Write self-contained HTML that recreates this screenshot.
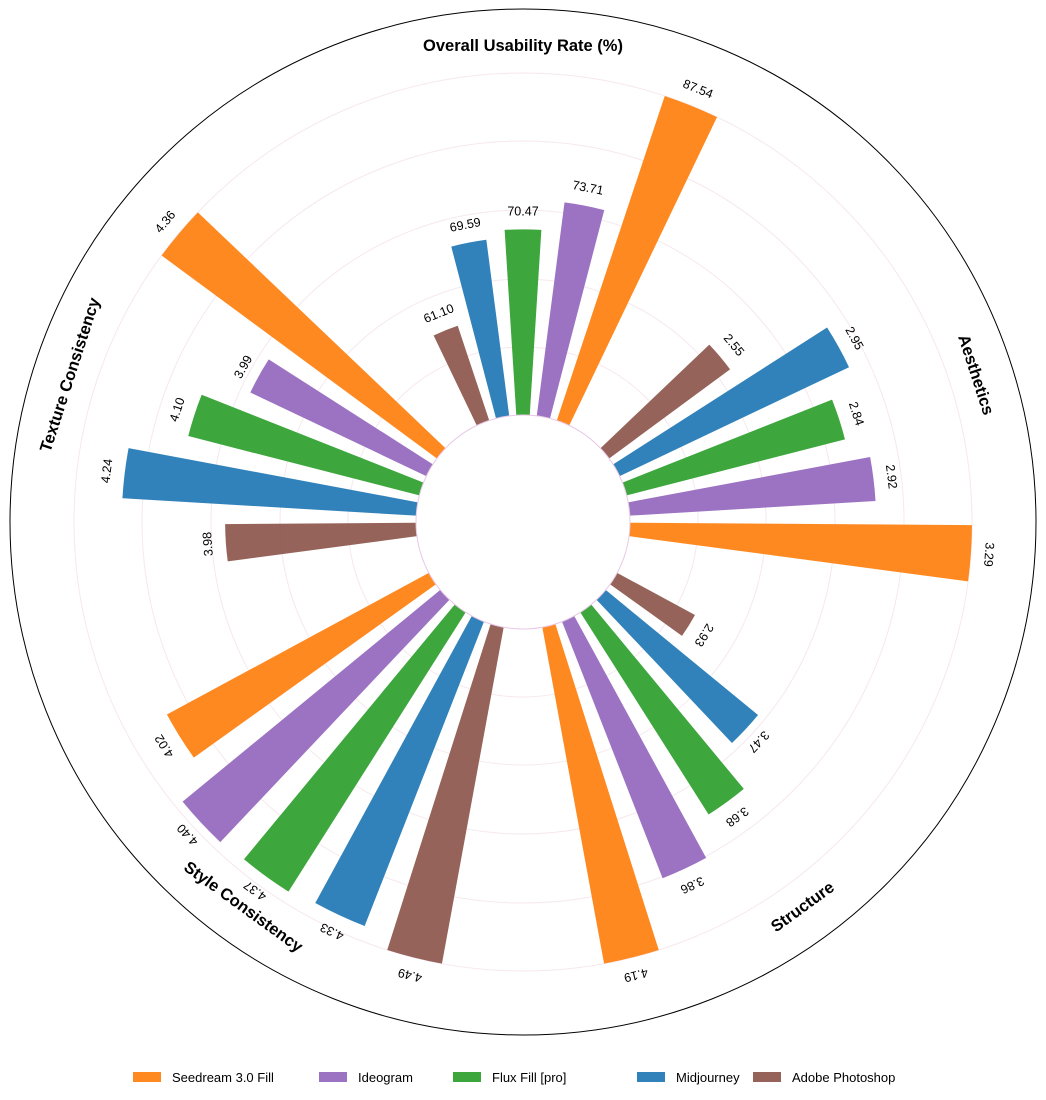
<!DOCTYPE html>
<html><head><meta charset="utf-8"><style>
body{margin:0;background:#fff;}
svg{display:block;font-family:"Liberation Sans","DejaVu Sans",sans-serif;}
</style></head><body>
<svg id="chart" width="1046" height="1100" viewBox="0 0 1046 1100"></svg>
<script>
const groups = ["Aesthetics","Overall Usability Rate (%)","Texture Consistency","Style Consistency","Structure"];
const seriesNames = ["Seedream 3.0 Fill","Ideogram","Flux Fill [pro]","Midjourney","Adobe Photoshop"];
const seedream = [3.29, 87.54, 4.36, 4.02, 4.19];
const ideogram = [2.92, 73.71, 3.99, 4.40, 3.86];
const flux = [2.84, 70.47, 4.10, 4.37, 3.68];
const midjourney = [2.95, 69.59, 4.24, 4.33, 3.47];
const photoshop = [2.55, 61.10, 3.98, 4.49, 2.93];
const axisMin = [1.97, 50.2, 3.50, 0.85, 2.49];
const labels = [
  ["3.29","87.54","4.36","4.02","4.19"],
  ["2.92","73.71","3.99","4.40","3.86"],
  ["2.84","70.47","4.10","4.37","3.68"],
  ["2.95","69.59","4.24","4.33","3.47"],
  ["2.55","61.10","3.98","4.49","2.93"]];
const series = [seedream, ideogram, flux, midjourney, photoshop];
const colors = ["#ff7f0e","#9467bd","#2ca02c","#1f77b4","#8c564b"];

const NS="http://www.w3.org/2000/svg";
const svg=document.getElementById('chart');
const cx=523, cy=522, R0=107, RMAX=449, ROUT=513;
function mk(t,a,p){const e=document.createElementNS(NS,t);for(const k in a)e.setAttribute(k,a[k]);(p||svg).appendChild(e);return e;}
function pt(r,deg){const a=deg*Math.PI/180;return [cx+r*Math.cos(a), cy-r*Math.sin(a)];}
function groupMax(g){return Math.max(...series.map(s=>s[g]));}
function rScale(g,v){return R0+(RMAX-R0)*(v-axisMin[g])/(groupMax(g)-axisMin[g]);}
function angle(g,k){return 18+72*g+(k-2)*11;}

const outer=mk('circle',{cx:cx,cy:cy,r:ROUT,fill:'none',stroke:'#000','stroke-width':1});


[175,243,312,381,449].forEach(r=>{
  const c=mk('circle',{cx:cx,cy:cy,r:r,fill:'none',stroke:'#f6e8ee','stroke-width':1});
  
  
});

const hw=3.6;
for(let k=0;k<5;k++){
  for(let g=0;g<5;g++){
    const th=angle(g,k), r=rScale(g,series[k][g]);
    const a1=th-hw, a2=th+hw;
    const p1=pt(R0,a1),p2=pt(r,a1),p3=pt(r,a2),p4=pt(R0,a2);
    const d=`M${p1[0]},${p1[1]} L${p2[0]},${p2[1]} A${r},${r} 0 0 0 ${p3[0]},${p3[1]} L${p4[0]},${p4[1]} A${R0},${R0} 0 0 1 ${p1[0]},${p1[1]} Z`;
    const b=mk('path',{d:d,fill:colors[k],'fill-opacity':0.92});
    
    
    const lp=pt(r+18,th);
    const t=mk('text',{x:lp[0],y:lp[1],'text-anchor':'middle','dominant-baseline':'central','font-size':12.5,fill:'#000',transform:`rotate(${th-90} ${lp[0]} ${lp[1]})`.replace(/rotate\(([-\d.]+)/,(m,v)=>'rotate('+(-(90-th)*-1*-1)) });
    t.setAttribute('transform',`rotate(${90-th} ${lp[0]} ${lp[1]})`);
    t.textContent=labels[k][g];
    
    
  }
}
const inner=mk('circle',{cx:cx,cy:cy,r:R0,fill:'none',stroke:'#e8c8e6','stroke-width':1});



for(let g=0;g<5;g++){
  const th=18+72*g; const p=pt(476,th);
  let rot=90-th; if(Math.sin(th*Math.PI/180)<-0.01) rot+=180;
  const t=mk('text',{x:p[0],y:p[1],'text-anchor':'middle','dominant-baseline':'central','font-size':16.5,'font-weight':'bold',fill:'#000',transform:`rotate(${rot} ${p[0]} ${p[1]})`});
  t.textContent=groups[g];
  
  
}

const legX=[133,319,453,637,753];
const lg=mk('g',{});


for(let k=0;k<5;k++){
  const e=mk('g',{},lg);
  
  
  mk('rect',{x:legX[k],y:1072,width:28,height:10,fill:colors[k],'fill-opacity':0.92},e);
  const t=mk('text',{x:legX[k]+39,y:1082,'font-size':13,fill:'#000'},e);
  t.textContent=seriesNames[k];
}
</script>
</body></html>
